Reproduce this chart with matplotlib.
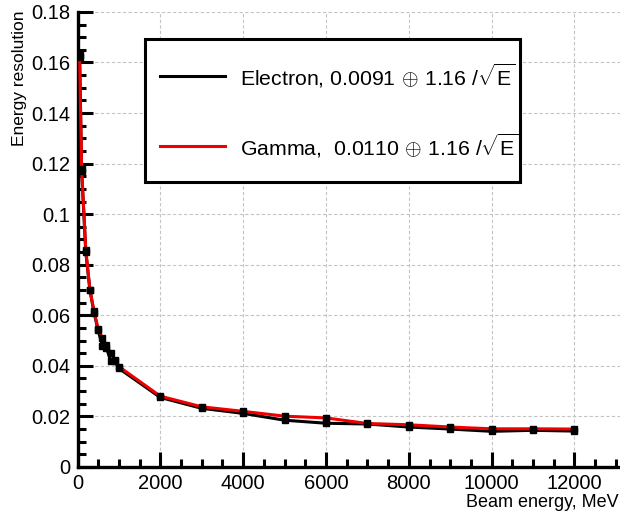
import matplotlib
matplotlib.use("Agg")
import matplotlib.pyplot as plt
from matplotlib.ticker import MultipleLocator, FixedLocator
from matplotlib.lines import Line2D
from matplotlib.patches import Rectangle

plt.rcParams['font.family'] = ['Liberation Sans', 'DejaVu Sans']
plt.rcParams['mathtext.fontset'] = 'custom'
plt.rcParams['mathtext.rm'] = 'Liberation Sans'
plt.rcParams['mathtext.it'] = 'Liberation Sans'

energy = [50, 100, 200, 300, 400, 500, 600, 700, 800, 900, 1000,
          2000, 3000, 4000, 5000, 6000, 7000, 8000, 9000, 10000, 11000, 12000]
electron = [0.162, 0.117, 0.085, 0.070, 0.061, 0.054, 0.048, 0.047, 0.042, 0.042, 0.039,
            0.0275, 0.0232, 0.0212, 0.0185, 0.0173, 0.0170, 0.0158, 0.0150, 0.0141, 0.0145, 0.0142]
gamma = [0.163, 0.118, 0.086, 0.070, 0.0615, 0.0546, 0.0509, 0.0483, 0.045, 0.0425, 0.0397,
         0.0280, 0.0238, 0.0220, 0.0201, 0.0194, 0.0172, 0.0167, 0.0158, 0.0151, 0.0151, 0.0150]
label_e = r"Electron, 0.0091$\,\oplus\,$1.16 /$\sqrt{\mathrm{E}}$"
label_g = r"Gamma,  0.0110$\,\oplus\,$1.16 /$\sqrt{\mathrm{E}}$"
xticks = [0, 2000, 4000, 6000, 8000, 10000, 12000]
yticks = [0, 0.02, 0.04, 0.06, 0.08, 0.1, 0.12, 0.14, 0.16, 0.18]
ytick_labels = ["0", "0.02", "0.04", "0.06", "0.08", "0.1", "0.12", "0.14", "0.16", "0.18"]

fig = plt.figure(figsize=(6.2, 5.18), dpi=100)
ax = fig.add_axes([0.125, 0.0985, 0.875, 0.8785])

ax.plot(energy, electron, color='black', lw=2.2, zorder=3)
ax.plot(energy, gamma, color='#ee0000', lw=2.2, zorder=4)
ax.plot(energy, electron, ls='none', marker='s', ms=4.5, color='black', zorder=5)
ax.plot(energy, gamma, ls='none', marker='s', ms=4.5, color='black', zorder=5)

ax.set_xlim(0, 13100)
ax.set_ylim(0, 0.18)
ax.xaxis.set_major_locator(FixedLocator(xticks))
ax.xaxis.set_minor_locator(MultipleLocator(500))
ax.yaxis.set_major_locator(FixedLocator(yticks))
ax.set_yticklabels(ytick_labels)
ax.yaxis.set_minor_locator(MultipleLocator(0.005))

ax.tick_params(which='major', direction='in', length=11, width=2.2, labelsize=14.5, pad=5)
ax.tick_params(which='minor', direction='in', length=6, width=2.2)
ax.tick_params(axis='x', which='major', pad=5)

for s in ['top', 'right']:
    ax.spines[s].set_visible(False)
for s in ['left', 'bottom']:
    ax.spines[s].set_linewidth(2.4)

ax.grid(True, which='major', color='#c4c4c4', lw=0.8, ls=(0, (3, 2)))
ax.set_axisbelow(True)

fig.text(0.998, 0.03, "Beam energy, MeV", ha='right', va='center', fontsize=13)
fig.text(0.032, 0.98, "Energy resolution", ha='center', va='top', rotation=90, fontsize=12.5)

# legend box
fig.patches.append(Rectangle((145 / 620, 1 - 182 / 518), 375 / 620, 143 / 518,
                             transform=fig.transFigure, fill=True, facecolor='white',
                             edgecolor='black', lw=2.2, zorder=6))
fig.lines.append(Line2D([160 / 620, 225 / 620], [1 - 76 / 518, 1 - 76 / 518],
                        transform=fig.transFigure, color='black', lw=2.2, zorder=7))
fig.lines.append(Line2D([160 / 620, 225 / 620], [1 - 146 / 518, 1 - 146 / 518],
                        transform=fig.transFigure, color='#ee0000', lw=2.2, zorder=7))
fig.text(240 / 620, 1 - 76 / 518, label_e, ha='left', va='center', fontsize=15.3, zorder=8)
fig.text(240 / 620, 1 - 146 / 518, label_g, ha='left', va='center', fontsize=15.3, zorder=8)

fig.savefig("out.png", dpi=100)
